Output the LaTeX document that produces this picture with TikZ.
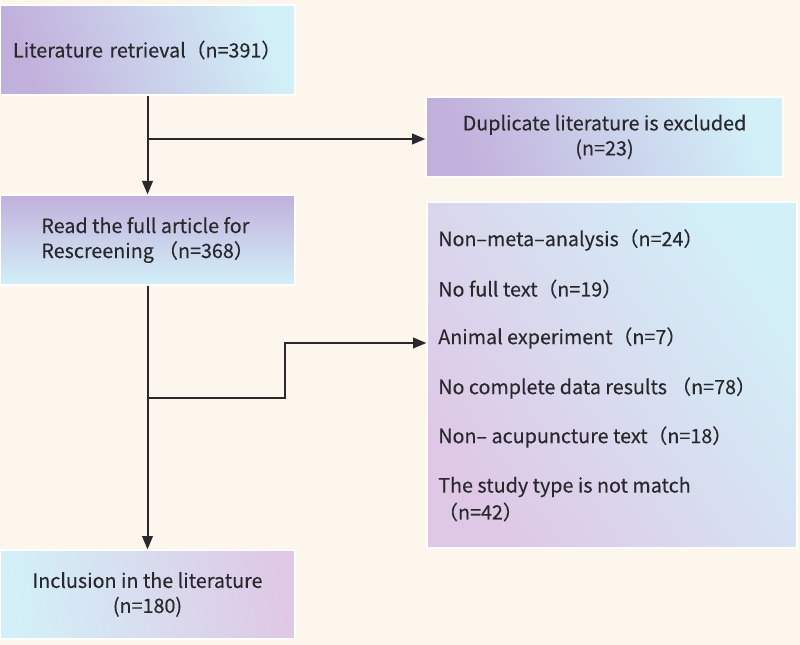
\documentclass[tikz,border=0pt]{standalone}
\usepackage{fontspec}
\setmainfont{Noto Sans CJK SC}[FakeBold=0.25]
\usetikzlibrary{arrows.meta}
\definecolor{bg}{RGB}{253,246,236}
\definecolor{purp}{RGB}{194,176,220}
\definecolor{cyn}{RGB}{210,240,248}
\definecolor{pinkp}{RGB}{222,200,230}
\definecolor{ink}{RGB}{40,40,45}
\tikzset{
  box/.style={draw=white, line width=1pt, inner sep=0pt, text=ink,
    font=\fontsize{14.8pt}{18.75pt}\selectfont},
  arr/.style={draw=ink, line width=1.5pt, -{Triangle[length=10pt,width=8pt]}},
  lbl/.style={text=ink, anchor=west, inner sep=0pt,
    font=\fontsize{14.8pt}{18.75pt}\selectfont}
}
\begin{document}
\begin{tikzpicture}[x=0.75pt,y=-0.75pt]
\fill[bg] (0,0) rectangle (800,645);
\useasboundingbox (0,0) rectangle (800,645);

\node[box, minimum width=295*0.75pt, minimum height=90*0.75pt,
  top color=cyn, bottom color=purp, shading angle=-70,
  text width=269*0.75pt, align=left] (b1) at (147.5,50)
  {Literature retrieval（n=391）};

\node[box, minimum width=295*0.75pt, minimum height=90*0.75pt,
  top color=purp, bottom color=cyn, shading angle=0,
  align=left] (b2) at (147.5,240)
  {Read the full article for\\Rescreening （n=368）};

\node[box, minimum width=357*0.75pt, minimum height=80*0.75pt,
  top color=cyn, bottom color=purp, shading angle=-70,
  align=center] (dup) at (604.5,137)
  {Duplicate literature is excluded\\(n=23)};

\node[box, minimum width=370*0.75pt, minimum height=346*0.75pt,
  top color=cyn, bottom color=pinkp, shading angle=-55] (ex) at (612,375) {};

\node[box, minimum width=295*0.75pt, minimum height=89*0.75pt,
  top color=pinkp, bottom color=cyn, shading angle=-80,
  align=center] (inc) at (147.5,594.5)
  {Inclusion in the literature\\(n=180)};

\node[lbl] (e1) at (438,240) {Non–meta–analysis（n=24）};
\node[lbl] (e2) at (438,289) {No full text（n=19）};
\node[lbl] (e3) at (438,338) {Animal experiment（n=7）};
\node[lbl] (e4) at (438,388) {No complete data results （n=78）};
\node[lbl] (e5) at (438,437) {Non– acupuncture text（n=18）};
\node[lbl] (e6) at (438,487) {The study type is not match};
\node[lbl] (e7) at (438,512) {（n=42）};

\draw[arr] (b1.south) -- (b2.north);
\coordinate (j1) at (147.5,139);
\draw[arr] (j1) -- (j1 -| dup.west);

\draw[arr] (b2.south) -- (inc.north);
\coordinate (j2) at (147.5,398);
\coordinate (k2) at (285,398);
\coordinate (k3) at (285,343);
\draw[arr] (j2) -- (k2) -- (k3) -- (k3 -| ex.west);
\end{tikzpicture}
\end{document}
